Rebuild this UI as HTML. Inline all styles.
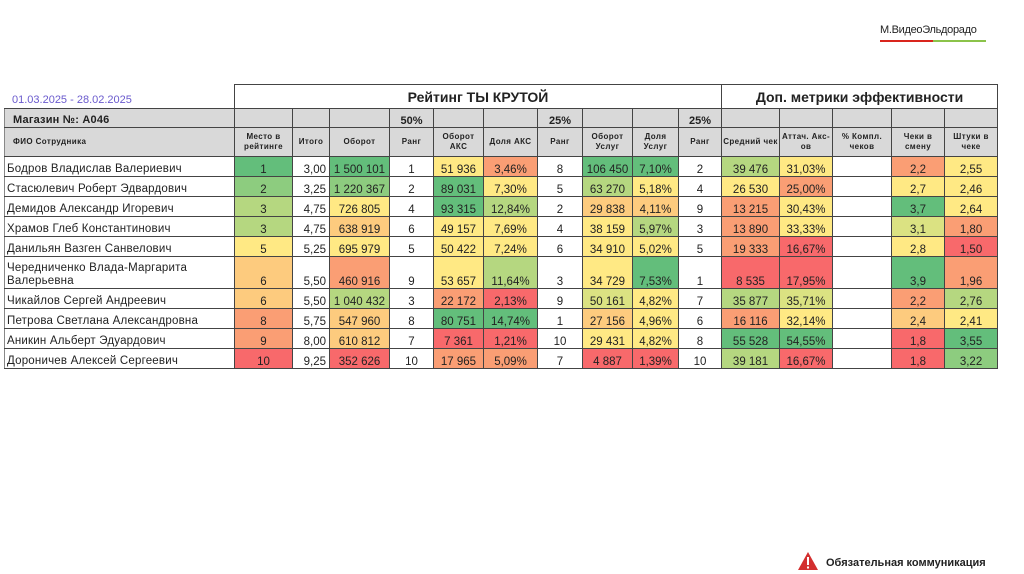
<!DOCTYPE html>
<html><head><meta charset="utf-8">
<style>
body{margin:0;width:1024px;height:574px;background:#fff;position:relative;overflow:hidden;font-family:"Liberation Sans","DejaVu Sans",sans-serif;color:#222}
#logo{position:absolute;left:880px;top:24px;font-size:11px;letter-spacing:-0.3px;color:#222}
#logo-bar{position:absolute;left:880px;top:40px;width:106px;height:2px;background:linear-gradient(90deg,#d9251d 0 50%,#8bc34a 50% 100%)}
#date{position:absolute;left:12px;top:94px;font-size:11px;color:#6a5acd}
table{position:absolute;left:4px;top:84px;width:993px;border-collapse:collapse;table-layout:fixed}
td{border:1px solid #444;padding:0;font-size:11.5px;text-align:center;white-space:nowrap;overflow:hidden;vertical-align:bottom}
td.nm{text-align:left;padding-left:2px;border-left:1px solid #888;white-space:normal;line-height:13px;font-size:11.5px;letter-spacing:0.2px}
tr.hd td{background:#d9d9d9;font-size:8px;font-weight:bold;line-height:10px;vertical-align:middle;white-space:normal;letter-spacing:0.4px}
tr.mg td{background:#d9d9d9;font-weight:bold;font-size:11px}
tr.tt td{font-size:14px;font-weight:bold;vertical-align:middle}
#warn{position:absolute;left:797px;top:551px}
#warn-text{position:absolute;left:826px;top:557px;font-size:11px;font-weight:bold;color:#222}
</style></head><body>
<div id="logo">М.ВидеоЭльдорадо</div>
<div id="logo-bar"></div>
<div id="date">01.03.2025 - 28.02.2025</div>
<table id="t">
<colgroup><col style="width:230px"><col style="width:58px"><col style="width:37px"><col style="width:60px"><col style="width:44px"><col style="width:50px"><col style="width:54px"><col style="width:45px"><col style="width:50px"><col style="width:46px"><col style="width:43px"><col style="width:58px"><col style="width:53px"><col style="width:59px"><col style="width:53px"><col style="width:53px"></colgroup>
<tr class="tt" style="height:24px"><td style="border:none"></td><td colspan="10">Рейтинг ТЫ КРУТОЙ</td><td colspan="5">Доп. метрики эффективности</td></tr>
<tr class="mg" style="height:19px"><td class="nm" style="padding-left:8px;font-size:11px;font-weight:bold">Магазин №: А046</td><td></td><td></td><td></td><td>50%</td><td></td><td></td><td>25%</td><td></td><td></td><td>25%</td><td></td><td></td><td></td><td></td><td></td></tr>
<tr class="hd" style="height:29px"><td class="nm" style="padding-left:8px;font-size:8px;line-height:10px">ФИО Сотрудника</td><td>Место в рейтинге</td><td>Итого</td><td>Оборот</td><td>Ранг</td><td>Оборот АКС</td><td>Доля АКС</td><td>Ранг</td><td>Оборот Услуг</td><td>Доля Услуг</td><td>Ранг</td><td>Средний чек</td><td>Аттач. Акс-ов</td><td>% Компл. чеков</td><td>Чеки в смену</td><td>Штуки в чеке</td></tr>
</table>
<svg id="warn" width="22" height="20"><polygon points="11,1 21,19 1,19" fill="#d32f2f"/><rect x="10" y="6" width="2" height="8" fill="#fff"/><rect x="10" y="15.5" width="2" height="2" fill="#fff"/></svg>
<div id="warn-text">Обязательная коммуникация</div>
<script>
const C={G:'#63be7b',H:'#8dcc7f',g:'#b5d780',l:'#dbe282',y:'#ffe984',o:'#fdcb7e',O:'#fa9e74',R:'#f8696b',_:''};
const names=['Бодров Владислав Валериевич','Стасюлевич Роберт Эдвардович','Демидов Александр Игоревич','Храмов Глеб Константинович','Данильян Вазген Санвелович','Чередниченко Влада-Маргарита Валерьевна','Чикайлов Сергей Андреевич','Петрова Светлана Александровна','Аникин Альберт Эдуардович','Дороничев Алексей Сергеевич'];
const vals=[
['1','3,00','1 500 101','1','51 936','3,46%','8','106 450','7,10%','2','39 476','31,03%','','2,2','2,55'],
['2','3,25','1 220 367','2','89 031','7,30%','5','63 270','5,18%','4','26 530','25,00%','','2,7','2,46'],
['3','4,75','726 805','4','93 315','12,84%','2','29 838','4,11%','9','13 215','30,43%','','3,7','2,64'],
['3','4,75','638 919','6','49 157','7,69%','4','38 159','5,97%','3','13 890','33,33%','','3,1','1,80'],
['5','5,25','695 979','5','50 422','7,24%','6','34 910','5,02%','5','19 333','16,67%','','2,8','1,50'],
['6','5,50','460 916','9','53 657','11,64%','3','34 729','7,53%','1','8 535','17,95%','','3,9','1,96'],
['6','5,50','1 040 432','3','22 172','2,13%','9','50 161','4,82%','7','35 877','35,71%','','2,2','2,76'],
['8','5,75','547 960','8','80 751','14,74%','1','27 156','4,96%','6','16 116','32,14%','','2,4','2,41'],
['9','8,00','610 812','7','7 361','1,21%','10','29 431','4,82%','8','55 528','54,55%','','1,8','3,55'],
['10','9,25','352 626','10','17 965','5,09%','7','4 887','1,39%','10','39 181','16,67%','','1,8','3,22']];
const cols=[
'G_G_yO_GG_gy_Oy','H_H_Gy_gy_yO_yy','g_y_Gg_oo_Oy_Gy','g_o_yy_yg_Oy_lO','y_y_yy_yy_OR_yR',
'o_O_yg_yG_RR_GO','o_g_OR_ly_gl_Og','O_o_GG_oy_Oy_oy','O_o_RR_yy_GG_RG','R_R_OO_RR_gR_RH'];
const t=document.getElementById('t');
names.forEach((n,i)=>{
  const tr=document.createElement('tr');
  
  
  tr.style.height=(i===5?32:20)+'px';
  const td=document.createElement('td');td.className='nm';td.textContent=n;
  
  
  tr.appendChild(td);
  vals[i].forEach((v,j)=>{
    const c=document.createElement('td');c.textContent=v;
    
    
    const k=cols[i][j];if(C[k])c.style.background=C[k];
    if(j===1){c.style.textAlign='right';c.style.paddingRight='3px';}
    tr.appendChild(c);
  });
  t.appendChild(tr);
});
</script>
</body></html>
